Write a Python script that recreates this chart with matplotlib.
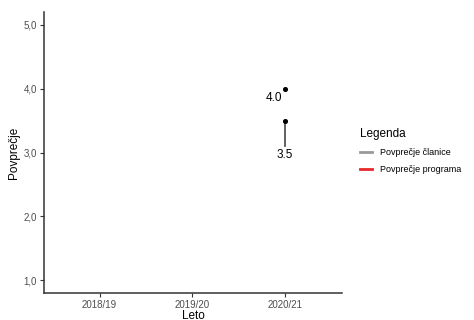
import numpy as np
import matplotlib.pyplot as plt
from matplotlib.lines import Line2D

plt.rcParams['font.family'] = ['Liberation Sans', 'DejaVu Sans']

# Podatki
leta = ["2018/19", "2019/20", "2020/21"]
povprecje_clanice = [np.nan, np.nan, 3.5]
povprecje_programa = [np.nan, np.nan, 4.0]
konec_crte = [np.nan, np.nan, 3.1]

fig = plt.figure(figsize=(4.74, 3.2), dpi=100)
ax = fig.add_axes([44 / 474, 27 / 320, 298 / 474, 281 / 320])

x = np.arange(1, len(leta) + 1)

# Navpicna crta clanice
for xi, y0, y1 in zip(x, povprecje_clanice, konec_crte):
    if not np.isnan(y0):
        ax.plot([xi, xi], [y0, y1], color='#555555', lw=1.3, zorder=2)

ax.scatter(x, povprecje_clanice, color='black', s=7, zorder=3)
ax.scatter(x, povprecje_programa, color='black', s=7, zorder=3)

for xi, v in zip(x, povprecje_programa):
    if not np.isnan(v):
        ax.text(xi - 0.03, v - 0.06, f"{v:.1f}", ha='right', va='top', fontsize=8.5, color='black')
for xi, v in zip(x, povprecje_clanice):
    if not np.isnan(v):
        ax.text(xi, v - 0.44, f"{v:.1f}", ha='center', va='top', fontsize=8.5, color='black')

ax.set_xlim(0.4, 3.62)
ax.set_ylim(0.8, 5.2)
ax.set_xticks(x)
ax.set_xticklabels(leta)
ax.set_yticks([1, 2, 3, 4, 5])
ax.set_yticklabels(["1,0", "2,0", "3,0", "4,0", "5,0"])
ax.tick_params(axis='both', colors='#333333', labelcolor='#4d4d4d', labelsize=7, length=3, width=0.8, pad=2)

for s in ['top', 'right']:
    ax.spines[s].set_visible(False)
for s in ['left', 'bottom']:
    ax.spines[s].set_color('#333333')
    ax.spines[s].set_linewidth(1.1)

ax.set_xlabel("Leto", fontsize=8.5, labelpad=0)
ax.set_ylabel("Povprečje", fontsize=8.5, labelpad=3)

handles = [
    Line2D([0], [0], color='#999999', lw=2, label='Povprečje članice'),
    Line2D([0], [0], color='#e8282b', lw=2, label='Povprečje programa'),
]
leg = fig.legend(handles=handles, title='Legenda', loc='upper left',
                 bbox_to_anchor=(352 / 474, 1 - 120 / 320), frameon=False,
                 fontsize=6.5, title_fontsize=8.5, handlelength=1.3,
                 handletextpad=0.9, labelspacing=0.9)
leg._legend_box.align = 'left'

fig.savefig('out.png', dpi=100)
